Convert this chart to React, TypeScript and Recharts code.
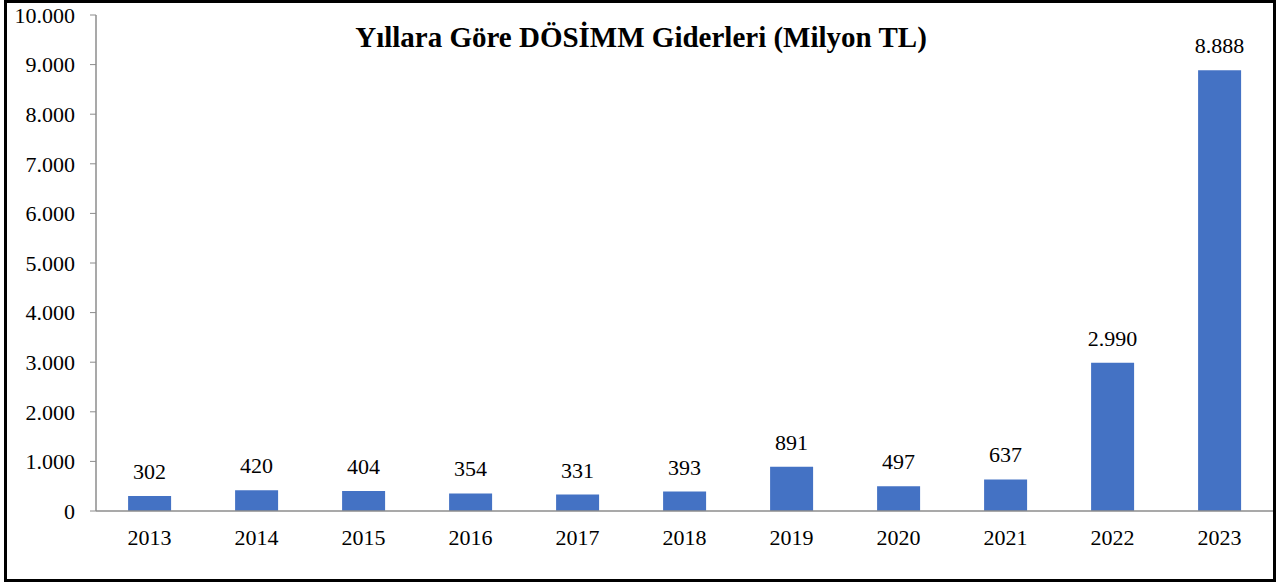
import React from 'react';
import { BarChart, Bar, XAxis, YAxis, LabelList } from 'recharts';

const years = ['2013', '2014', '2015', '2016', '2017', '2018', '2019', '2020', '2021', '2022', '2023'];
const expenses = [302, 420, 404, 354, 331, 393, 891, 497, 637, 2990, 8888];
const yTicks = [0, 1000, 2000, 3000, 4000, 5000, 6000, 7000, 8000, 9000, 10000];
const title = 'Yıllara Göre DÖSİMM Giderleri (Milyon TL)';

const data = years.map((y, i) => ({ year: y, value: expenses[i] }));
const boundaryTicks = years.map((_, i) => i).concat([years.length]);

const fmt = (v: number) => v.toLocaleString('tr-TR');
const FONT = "Liberation Serif, Tinos, Times New Roman, Times, DejaVu Serif, Noto Serif, serif";
const AXIS = '#8c8c8c';

export default function App() {
  return (
    <div style={{ position: 'absolute', left: 0, top: 0, width: 1280, height: 585, background: '#fff', fontFamily: FONT }}>
      <div style={{ position: 'absolute', left: 4, top: 0, width: 1266, height: 576, border: '3px solid #000' }} />
      <div style={{ position: 'absolute', left: 0, top: 0 }}>
        <BarChart width={1280} height={585} data={data} margin={{ top: 15, right: 7, bottom: 0, left: 10 }} barCategoryGap="30%">
          <XAxis
            xAxisId="b"
            type="number"
            domain={[0, years.length]}
            ticks={boundaryTicks}
            height={0}
            axisLine={false}
            tick={false}
            tickLine={{ stroke: AXIS }}
            tickSize={7}
          />
          <XAxis
            xAxisId="cat"
            dataKey="year"
            height={74}
            axisLine={{ stroke: AXIS, strokeWidth: 1.5 }}
            tickLine={false}
            tickSize={0}
            tickMargin={18}
            interval={0}
            tick={{ fill: '#000', fontSize: 22, fontFamily: FONT }}
          />
          <YAxis
            width={86}
            domain={[0, 10000]}
            ticks={yTicks}
            interval={0}
            tickFormatter={fmt}
            axisLine={{ stroke: AXIS, strokeWidth: 1.5 }}
            tickLine={{ stroke: AXIS }}
            tickSize={6}
            tickMargin={15}
            tick={{ fill: '#000', fontSize: 22, fontFamily: FONT }}
          />
          <Bar xAxisId="cat" dataKey="value" fill="#4472C4" isAnimationActive={false}>
            <LabelList dataKey="value" position="top" offset={17} formatter={(v: any) => fmt(Number(v))} style={{ fill: '#000', fontSize: 22, fontFamily: FONT }} />
          </Bar>
        </BarChart>
      </div>
      <div style={{ position: 'absolute', left: 241, top: 23, width: 800, textAlign: 'center', fontSize: 29, lineHeight: '29px', fontWeight: 'bold', color: '#000', fontFamily: FONT }}>
        {title}
      </div>
    </div>
  );
}
